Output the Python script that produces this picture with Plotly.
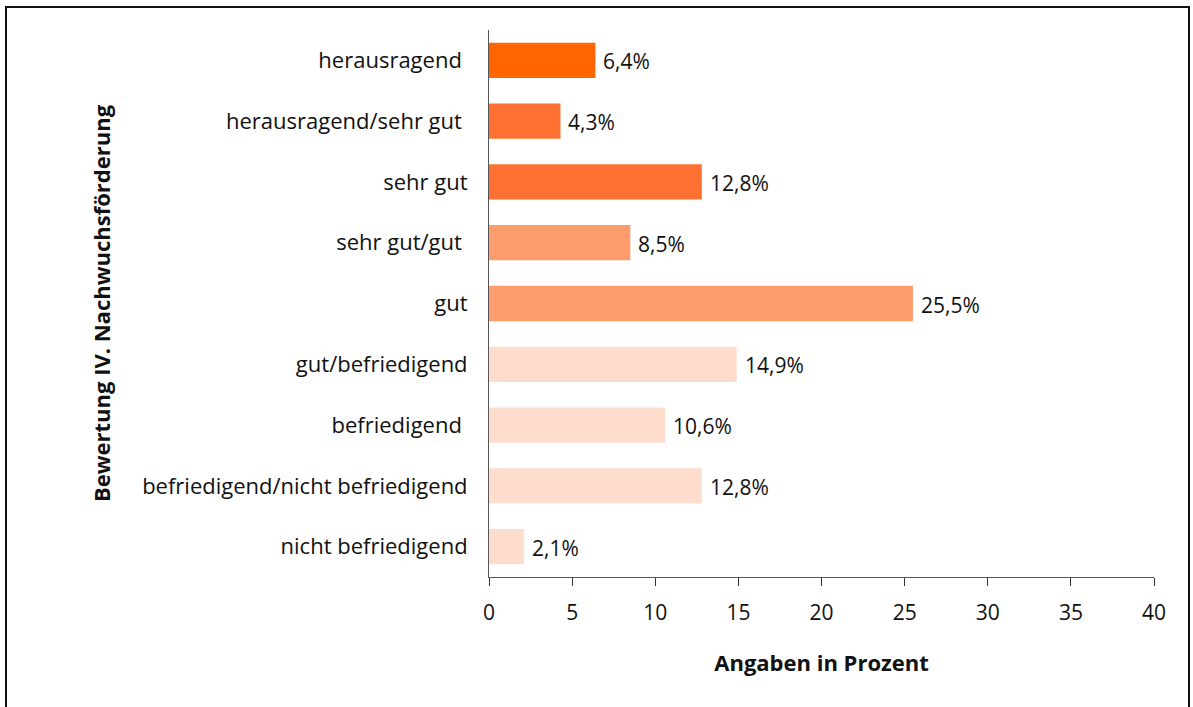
import plotly.graph_objects as go

categories = ["herausragend\u00a0", "herausragend/sehr gut\u00a0", "sehr gut", "sehr gut/gut\u00a0", "gut",
              "gut/befriedigend", "befriedigend\u00a0", "befriedigend/nicht befriedigend", "nicht befriedigend"]
values = [6.4, 4.3, 12.8, 8.5, 25.5, 14.9, 10.6, 12.8, 2.1]
colors = ["#FF6600", "#FF7033", "#FF7033", "#FF9C6E", "#FF9C6E",
          "#FFDDCC", "#FFDDCC", "#FFDDCC", "#FFDDCC"]
x_ticks = [0, 5, 10, 15, 20, 25, 30, 35, 40]

font_family = "Open Sans, Liberation Sans, Arial, sans-serif"

fig = go.Figure()
fig.add_trace(go.Bar(
    y=categories, x=values, orientation="h",
    marker=dict(color=colors, line=dict(width=0)),
    hoverinfo="skip",
))

annotations = [
    dict(x=v, y=c, xref="x", yref="y", text=f"{v:.1f}%".replace(".", ","),
         showarrow=False, xanchor="left", yanchor="middle", xshift=6, yshift=-1,
         font=dict(size=21, color="#111111", family=font_family))
    for c, v in zip(categories, values)
]

fig.update_layout(
    width=1193, height=707,
    margin=dict(l=489, r=39, t=30, b=130),
    paper_bgcolor="white", plot_bgcolor="white",
    separators=",.",
    bargap=0.42,
    showlegend=False,
    font=dict(family=font_family, size=21, color="#111111"),
    annotations=annotations,
    xaxis=dict(
        range=[0, 40], tickvals=x_ticks, ticks="outside", ticklen=8, tickcolor="#333333",
        showline=True, linecolor="#555555", linewidth=1, showgrid=False, zeroline=False,
        tickfont=dict(size=21), ticklabelstandoff=9,
        title=dict(text="<b>Angaben in Prozent</b>", font=dict(size=22), standoff=30),
    ),
    yaxis=dict(
        type="category", range=[len(categories) - 0.5, -0.5],
        showline=True, linecolor="#555555", linewidth=1,
        ticks="", showgrid=False, tickfont=dict(size=22), ticklabelstandoff=16,
        title=dict(text="<b>Bewertung IV. Nachwuchsförderung</b>", font=dict(size=22), standoff=25),
    ),
    shapes=[dict(type="rect", xref="paper", yref="paper",
                 x0=(6 - 489) / 665, x1=(1189 - 489) / 665,
                 y0=(577 - 730) / 547, y1=1 + (30 - 7) / 547,
                 line=dict(color="#111111", width=2), fillcolor="rgba(0,0,0,0)", layer="below")],
)

fig.write_html("out.html", config={"displayModeBar": False},
               post_script="document.body.style.margin='0px';")
